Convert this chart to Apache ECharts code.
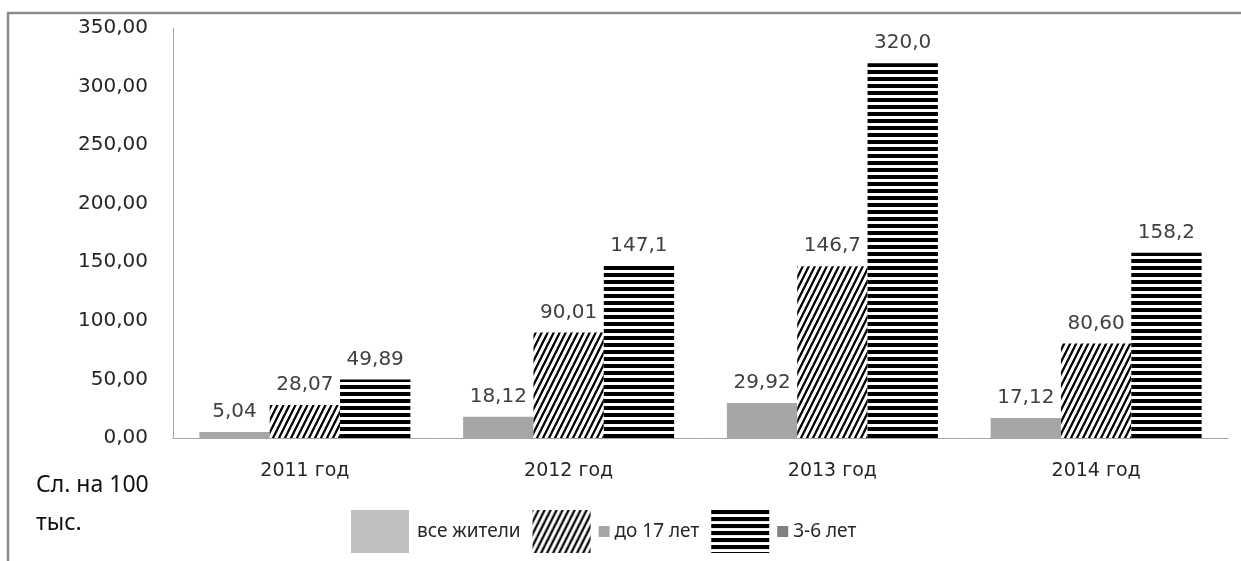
<!DOCTYPE html>
<html>
<head>
<meta charset="utf-8">
<script src="https://cdn.jsdelivr.net/npm/echarts@6/dist/echarts.min.js"></script>
<style>
  html, body { margin: 0; padding: 0; background: #fff; }
  #chart { width: 1241px; height: 561px; }
</style>
</head>
<body>
<div id="chart"></div>
<script>
const categories = ['2011 год', '2012 год', '2013 год', '2014 год'];
const seriesNames = ['все жители', 'до 17 лет', '3-6 лет'];
const allResidents = [5.04, 18.12, 29.92, 17.12];
const under17 = [28.07, 90.01, 146.7, 80.6];
const age3to6 = [49.89, 147.1, 320.0, 158.2];
const yTicks = { min: 0, max: 350, interval: 50 };

// hatch tile: steep black "/" lines on white
function hatchTile() {
  const c = document.createElement('canvas');
  c.width = 6; c.height = 12;
  const ctx = c.getContext('2d');
  ctx.fillStyle = '#fff';
  ctx.fillRect(0, 0, 6, 12);
  ctx.strokeStyle = '#000';
  ctx.lineWidth = 2.2;
  ctx.beginPath();
  ctx.moveTo(-1, 14); ctx.lineTo(7, -2);
  ctx.moveTo(-7, 14); ctx.lineTo(1, -2);
  ctx.moveTo(5, 14); ctx.lineTo(13, -2);
  ctx.stroke();
  return c;
}

// horizontal stripes tile
function stripeTile() {
  const c = document.createElement('canvas');
  c.width = 4; c.height = 7;
  const ctx = c.getContext('2d');
  ctx.fillStyle = '#fff';
  ctx.fillRect(0, 0, 4, 7);
  ctx.fillStyle = '#000';
  ctx.fillRect(0, 0, 4, 4);
  return c;
}

const hatchFill = { image: hatchTile(), repeat: 'repeat' };
const stripeFill = { image: stripeTile(), repeat: 'repeat' };

const fmtLabel = (v) => (v >= 100 ? v.toFixed(1) : v.toFixed(2)).replace('.', ',');

const labelStyle = {
  show: true,
  position: 'top',
  distance: 10,
  fontFamily: 'DejaVu Sans',
  fontSize: 20,
  color: '#404040',
  formatter: (p) => fmtLabel(p.value)
};

const chart = echarts.init(document.getElementById('chart'));

const option = {
  animation: false,
  backgroundColor: '#fff',
  grid: { left: 173, right: 13, top: 28, bottom: 123 },
  xAxis: {
    type: 'category',
    data: categories,
    axisLine: { lineStyle: { color: '#a6a6a6', width: 1 } },
    axisTick: { show: false },
    axisLabel: { fontFamily: 'DejaVu Sans', fontSize: 19, color: '#262626', margin: 24 }
  },
  yAxis: {
    type: 'value',
    min: yTicks.min,
    max: yTicks.max,
    interval: yTicks.interval,
    axisLine: { show: true, lineStyle: { color: '#a6a6a6', width: 1 } },
    axisTick: { show: false },
    splitLine: { show: false },
    axisLabel: {
      fontFamily: 'DejaVu Sans',
      fontSize: 20,
      color: '#262626',
      margin: 25,
      formatter: (v) => v.toFixed(2).replace('.', ',')
    }
  },
  legend: {
    left: 351,
    top: 510,
    padding: 0,
    itemWidth: 58,
    itemHeight: 43,
    itemGap: 12,
    textStyle: {
      fontFamily: 'Noto Sans',
      fontSize: 19,
      color: '#262626',
      padding: [0, 0, 0, 3],
      rich: {
        a: { width: 11, height: 11, backgroundColor: '#a6a6a6' },
        b: { width: 11, height: 11, backgroundColor: '#808080' },
        t: { fontFamily: 'Noto Sans', fontSize: 19, color: '#262626' }
      }
    },
    formatter: (name) => {
      if (name === seriesNames[1]) return '{a|} {t|' + name + '}';
      if (name === seriesNames[2]) return '{b|} {t|' + name + '}';
      return '{t|' + name + '}';
    },
    data: [
      { name: seriesNames[0], icon: 'rect', itemStyle: { color: '#bfbfbf' } },
      { name: seriesNames[1], icon: 'rect' },
      { name: seriesNames[2], icon: 'rect' }
    ]
  },
  graphic: [
    {
      type: 'rect',
      shape: { x: 8, y: 13, width: 1400, height: 700 },
      style: { fill: 'none', stroke: '#8c8c8c', lineWidth: 2.5 },
      silent: true
    },
    {
      type: 'text',
      left: 36,
      top: 466,
      style: {
        text: 'Сл. на 100\nтыс.',
        fontFamily: 'Noto Sans',
        fontSize: 23,
        lineHeight: 38,
        fill: '#111'
      }
    }
  ],
  series: [
    {
      name: seriesNames[0],
      type: 'bar',
      data: allResidents,
      barGap: '0%',
      barCategoryGap: '20%',
      itemStyle: { color: '#a6a6a6' },
      label: labelStyle
    },
    {
      name: seriesNames[1],
      type: 'bar',
      data: under17,
      barGap: '0%',
      barCategoryGap: '20%',
      itemStyle: { color: hatchFill },
      label: labelStyle
    },
    {
      name: seriesNames[2],
      type: 'bar',
      data: age3to6,
      barGap: '0%',
      barCategoryGap: '20%',
      itemStyle: { color: stripeFill },
      label: labelStyle
    }
  ]
};

chart.setOption(option);
window.addEventListener('resize', () => chart.resize());
</script>
</body>
</html>
